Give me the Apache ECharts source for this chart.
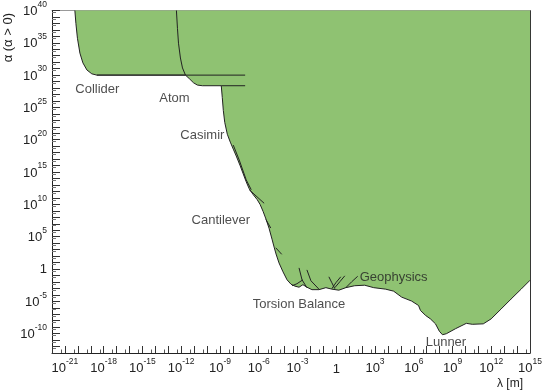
<!DOCTYPE html>
<html>
<head>
<meta charset="utf-8">
<script src="https://cdn.jsdelivr.net/npm/echarts@6/dist/echarts.min.js"></script>
<style>
html,body{margin:0;padding:0;background:#fff;}
#chart{width:545px;height:392px;}
</style>
</head>
<body>
<div id="chart"></div>
<script>
// All values are log10 exponents: x = log10(lambda / m), y = log10(alpha)
var xMin = -22, xMax = 15, yMin = -13, yMax = 40;
var xTickLabels = [-21, -18, -15, -12, -9, -6, -3, 0, 3, 6, 9, 12, 15];
var yTickLabels = [-10, -5, 0, 5, 10, 15, 20, 25, 30, 35, 40];

// excluded region boundary (region above is excluded)
var boundaryLogLambda = [-20.23, -20.15, -20.03, -19.84, -19.61, -19.30, -18.92, -18.53, -11.67,
  -11.36, -11.05, -10.75, -10.36, -8.90,
  -8.82, -8.74, -8.63, -8.43, -8.20, -7.97, -7.74, -7.43, -7.20, -6.97, -6.74, -6.43, -6.12, -5.89,
  -5.66, -5.43, -5.20, -4.97, -4.81, -4.66, -4.43, -4.12, -3.81, -3.50, -3.19, -2.88, -2.58, -2.27,
  -1.88, -1.34, -0.80, -0.34, 0.20, 0.74, 1.43, 2.20, 2.90, 3.82, 4.44, 5.06, 5.83, 6.37, 6.52, 6.91,
  7.29, 7.68, 7.98, 8.22, 8.52, 9.22, 10.07, 10.53, 11.38, 11.99, 12.76, 13.53, 14.31, 15.0];
var boundaryLogAlpha = [40, 38.0, 35.7, 33.4, 31.9, 30.8, 30.2, 30.0, 30.0,
  29.43, 28.82, 28.46, 28.36, 28.36,
  26.52, 24.53, 22.69, 20.85, 19.63, 18.55, 17.48, 15.95, 14.72, 13.50, 12.43, 11.51, 10.74, 9.97,
  8.90, 7.68, 6.30, 4.61, 3.39, 2.32, 0.94, -0.44, -1.67, -2.36, -2.66, -2.82, -2.43, -2.82,
  -3.20, -3.20, -2.89, -3.12, -3.28, -2.89, -2.59, -2.51, -2.89, -3.12, -3.43, -4.35, -4.96, -5.65, -6.42, -7.18,
  -7.72, -8.48, -9.63, -10.17, -10.02, -9.25, -8.41, -8.56, -8.49, -7.72, -6.19, -4.65, -3.12, -1.74];

// individual limit curves drawn as lines
var colliderLogLambda = [-18.53, -7.05];
var colliderLogAlpha = [30.0, 30.0];
var atomLogLambda = [-12.37, -12.29, -12.21, -12.06, -11.90, -11.67];
var atomLogAlpha = [40, 37.24, 34.94, 32.65, 31.11, 30.0];
var atomPlateauLogLambda = [-8.90, -7.05];
var atomPlateauLogAlpha = [28.36, 28.36];
var casimirLogLambda = [-7.97, -7.51, -6.97, -6.58];
var casimirLogAlpha = [19.17, 16.87, 13.80, 12.27];
var cantileverALogLambda = [-6.74, -5.58];
var cantileverALogAlpha = [12.27, 10.17];
var cantileverBLogLambda = [-5.45, -5.07];
var cantileverBLogAlpha = [7.68, 6.34];
var cantileverCLogLambda = [-4.68, -4.22];
var cantileverCLogAlpha = [3.28, 2.27];
var torsion1LogLambda = [-2.88, -2.65, -2.27];
var torsion1LogAlpha = [0.17, -1.67, -2.89];
var torsion2LogLambda = [-2.27, -1.96, -1.34];
var torsion2LogAlpha = [-0.14, -1.82, -3.12];
var torsion3LogLambda = [-3.42, -3.04, -2.58];
var torsion3LogAlpha = [-2.59, -2.28, -1.67];
var torsion4LogLambda = [-0.34, -0.03, 0.35];
var torsion4LogAlpha = [-3.05, -2.13, -1.21];
var torsion5LogLambda = [-0.57, -0.34, -0.11];
var torsion5LogAlpha = [-1.21, -2.13, -3.05];
var torsion6LogLambda = [-0.11, 0.28, 0.66];
var torsion6LogAlpha = [-2.89, -1.97, -1.06];
var geophysicsLogLambda = [0.74, 1.20, 1.66];
var geophysicsLogAlpha = [-2.89, -1.97, -1.13];

// experiment labels
var labelNames = ['Collider', 'Atom', 'Casimir', 'Cantilever', 'Torsion Balance', 'Geophysics', 'Lunner'];
var labelLogLambda = [-18.49, -12.52, -10.36, -8.93, -2.88, 4.44, 8.49];
var labelLogAlpha = [27.74, 26.41, 20.70, 7.52, -5.50, -1.36, -11.42];

function zip(xs, ys) { return xs.map(function (x, i) { return [x, ys[i]]; }); }
function range(a, b) { var r = []; for (var i = a; i <= b; i++) r.push(i); return r; }

var xMinor = range(xMin, xMax - 1).map(function (n) { return n + Math.log10(5); });
var yMinor = range(yMin, yMax - 1).map(function (n) { return n + Math.log10(5); });

var FONT = "'Liberation Sans', Arial, Helvetica, sans-serif";
var richX = {
  b: { fontSize: 13, fontFamily: FONT, color: '#222', lineHeight: 15, verticalAlign: 'bottom' },
  s: { fontSize: 8.5, fontFamily: FONT, color: '#222', lineHeight: 9, padding: [0, 0, 9, 0], verticalAlign: 'bottom' },
  one: { fontSize: 13, fontFamily: FONT, color: '#222', lineHeight: 15, padding: [4, 0, 0, 0] }
};
var richY = {
  b: { fontSize: 13, fontFamily: FONT, color: '#222', lineHeight: 15, verticalAlign: 'bottom' },
  s: { fontSize: 8.5, fontFamily: FONT, color: '#222', lineHeight: 9, padding: [0, 0, 9, 0], verticalAlign: 'bottom' },
  one: { fontSize: 13, fontFamily: FONT, color: '#222', lineHeight: 15 }
};

function fmt(list) {
  return function (v) {
    v = Math.round(v);
    if (list.indexOf(v) < 0) return '';
    if (v === 0) return '{one|1}';
    return '{b|10}{s|' + v + '}';
  };
}

function lineSeries(xs, ys) {
  return {
    type: 'line', data: zip(xs, ys), showSymbol: false, symbol: 'none',
    lineStyle: { color: '#222', width: 1 }, silent: true, z: 3
  };
}

var chart = echarts.init(document.getElementById('chart'), null, { renderer: 'canvas' });

var option = {
  animation: false,
  backgroundColor: '#fff',
  grid: { left: 52, right: 13, top: 7, bottom: 39, containLabel: false },
  xAxis: [
    {
      type: 'value', min: xMin, max: xMax, interval: 1, position: 'bottom',
      axisLine: { onZero: false, lineStyle: { color: '#222', width: 1 } },
      axisTick: { inside: true, length: 7, lineStyle: { color: '#333' } },
      splitLine: { show: false },
      axisLabel: { formatter: fmt(xTickLabels), margin: 7, rich: richX, showMinLabel: true, showMaxLabel: true }
    },
    {
      type: 'value', min: xMin, max: xMax, position: 'bottom',
      axisLine: { show: false, onZero: false },
      axisTick: { show: true, inside: true, length: 3.5, customValues: xMinor, lineStyle: { color: '#555' } },
      axisLabel: { show: false }, splitLine: { show: false }
    },
    {
      type: 'value', min: xMin, max: xMax, position: 'top',
      axisLine: { show: true, onZero: false, lineStyle: { color: '#999', width: 1 } },
      axisTick: { show: false }, axisLabel: { show: false }, splitLine: { show: false }
    }
  ],
  yAxis: [
    {
      type: 'value', min: yMin, max: yMax, interval: 1, position: 'left',
      axisLine: { onZero: false, lineStyle: { color: '#222', width: 1 } },
      axisTick: { inside: true, length: 8, lineStyle: { color: '#333' } },
      splitLine: { show: false },
      axisLabel: { formatter: fmt(yTickLabels), margin: 5, rich: richY, showMinLabel: true, showMaxLabel: true }
    },
    {
      type: 'value', min: yMin, max: yMax, position: 'left',
      axisLine: { show: false, onZero: false },
      axisTick: { show: true, inside: true, length: 4, customValues: yMinor, lineStyle: { color: '#777' } },
      axisLabel: { show: false }, splitLine: { show: false }
    },
    {
      type: 'value', min: yMin, max: yMax, position: 'right',
      axisLine: { show: true, onZero: false, lineStyle: { color: '#333', width: 1 } },
      axisTick: { show: false }, axisLabel: { show: false }, splitLine: { show: false }
    }
  ],
  series: [
    {
      type: 'line', data: zip(boundaryLogLambda, boundaryLogAlpha), showSymbol: false, symbol: 'none',
      lineStyle: { color: '#222', width: 1 },
      areaStyle: { color: '#8FC272', opacity: 1, origin: 'end' }, silent: true, z: 2
    },
    lineSeries(colliderLogLambda, colliderLogAlpha),
    lineSeries(atomLogLambda, atomLogAlpha),
    lineSeries(atomPlateauLogLambda, atomPlateauLogAlpha),
    lineSeries(casimirLogLambda, casimirLogAlpha),
    lineSeries(cantileverALogLambda, cantileverALogAlpha),
    lineSeries(cantileverBLogLambda, cantileverBLogAlpha),
    lineSeries(cantileverCLogLambda, cantileverCLogAlpha),
    lineSeries(torsion1LogLambda, torsion1LogAlpha),
    lineSeries(torsion2LogLambda, torsion2LogAlpha),
    lineSeries(torsion3LogLambda, torsion3LogAlpha),
    lineSeries(torsion4LogLambda, torsion4LogAlpha),
    lineSeries(torsion5LogLambda, torsion5LogAlpha),
    lineSeries(torsion6LogLambda, torsion6LogAlpha),
    lineSeries(geophysicsLogLambda, geophysicsLogAlpha),
    {
      type: 'scatter', symbolSize: 1, itemStyle: { color: 'rgba(0,0,0,0)' }, silent: true, z: 5,
      data: labelNames.map(function (n, i) { return { name: n, value: [labelLogLambda[i], labelLogAlpha[i]] }; }),
      label: { show: true, position: 'inside', formatter: '{b}', color: '#222', fontSize: 13, fontFamily: FONT }
    }
  ],
  graphic: [
    {
      type: 'text', x: 8, y: 13, rotation: Math.PI / 2,
      style: { text: 'α (α > 0)', fontSize: 13, fontFamily: FONT, fill: '#222', align: 'right', verticalAlign: 'middle' }
    },
    {
      type: 'text', x: 523, y: 384,
      style: { text: 'λ [m]', fontSize: 12, fontFamily: FONT, fill: '#222', align: 'right', verticalAlign: 'middle' }
    }
  ]
};
chart.setOption(option);
</script>
</body>
</html>
